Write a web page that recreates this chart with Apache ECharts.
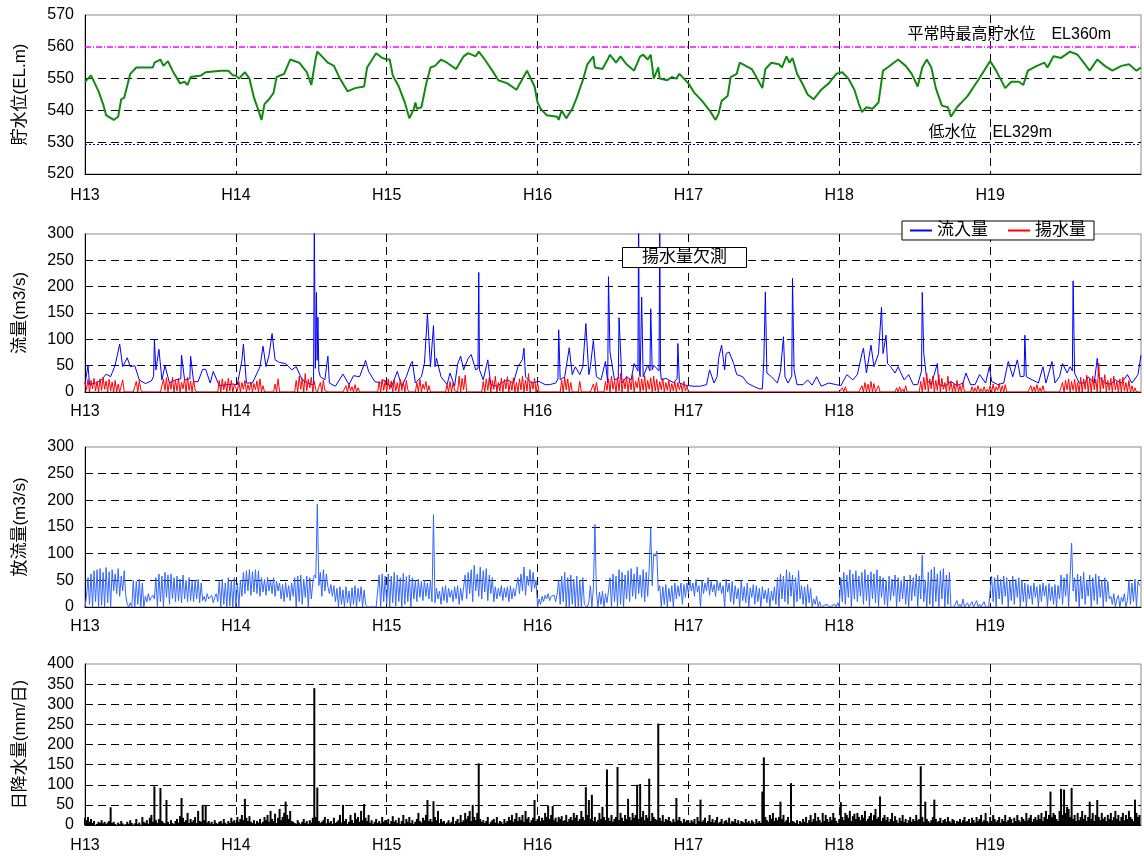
<!DOCTYPE html>
<html><head><meta charset="utf-8">
<script src="https://cdn.jsdelivr.net/npm/echarts@6/dist/echarts.min.js"></script>
<style>html,body{margin:0;padding:0;background:#fff}#c{width:1144px;height:857px}</style>
</head><body><div id="c"></div>
<script>
// ---------- DATA ----------
const yearTicks = ['H13','H14','H15','H16','H17','H18','H19'];
// Water level [year position, EL m]
const waterLevel = [[13.00,549],[13.04,551],[13.09,546],[13.12,542],[13.14,538.5],[13.19,537],[13.22,538],[13.24,543.5],[13.26,544],[13.30,551.5],[13.34,553.5],[13.45,553.5],[13.46,555],[13.50,556],[13.52,554],[13.55,555.5],[13.58,552.5],[13.63,548.5],[13.66,549],[13.68,548],[13.70,550.5],[13.77,551],[13.80,552],[13.90,552.5],[13.95,552.5],[13.98,551],[14.00,551],
[14.02,550],[14.06,552],[14.09,550],[14.12,544],[14.15,540],[14.17,537],[14.19,542],[14.22,543.5],[14.25,545.5],[14.27,550.5],[14.32,551.5],[14.36,556],[14.42,555],[14.47,552],[14.50,548],[14.51,547.5],[14.53,556.5],[14.54,558.5],[14.58,556.5],[14.61,555],[14.65,554],[14.69,550],[14.74,546],[14.79,547],[14.85,547.5],[14.87,553.5],[14.93,558],[14.97,556.5],[15.00,556],
[15.02,556],[15.04,551],[15.08,547.5],[15.12,542.5],[15.15,537.5],[15.18,540.5],[15.19,542.5],[15.20,540.5],[15.23,541],[15.26,548],[15.29,553.5],[15.32,554],[15.36,556],[15.40,555],[15.46,553],[15.51,557],[15.54,558],[15.59,557],[15.61,558.5],[15.65,556],[15.70,552.5],[15.74,549.5],[15.80,548.5],[15.86,546.5],[15.93,552.5],[15.98,547.5],[16.00,542.5],
[16.02,540.5],[16.06,538.5],[16.13,538],[16.14,537],[16.16,540],[16.19,537.5],[16.23,540.5],[16.26,544],[16.30,549.5],[16.33,554.5],[16.37,557],[16.38,553.5],[16.43,553],[16.47,556.5],[16.48,557.5],[16.52,555],[16.55,557],[16.59,554.5],[16.64,552.5],[16.68,557],[16.70,557.5],[16.73,556],[16.75,557.5],[16.77,550],[16.80,553.5],[16.81,550],[16.86,549.5],[16.89,550.5],[16.92,550],[16.94,551.5],[17.00,548.5],
[17.04,545.5],[17.09,543],[17.14,540],[17.18,537],[17.20,539],[17.22,543],[17.26,544.5],[17.28,550.5],[17.32,551.5],[17.34,555],[17.42,553],[17.45,550.5],[17.49,547],[17.51,553],[17.55,555],[17.60,554.5],[17.62,553.5],[17.65,557],[17.67,555],[17.69,556.5],[17.72,551.5],[17.76,548],[17.79,545],[17.83,543.5],[17.88,546.5],[17.93,548.5],[17.98,551.5],
[18.02,552],[18.06,550],[18.10,546.5],[18.13,542],[18.15,539.5],[18.18,541],[18.22,540.5],[18.26,542.5],[18.29,552.5],[18.32,553.5],[18.39,556],[18.44,554],[18.48,551.5],[18.52,547.5],[18.55,553.5],[18.58,556],[18.61,553.5],[18.64,547],[18.68,541.5],[18.72,541],[18.74,538],[18.78,541],[18.85,544.5],[18.92,549.5],[19.00,555.5],
[19.04,552.5],[19.10,547],[19.14,549],[19.19,549],[19.22,548],[19.25,552.5],[19.31,554],[19.36,555],[19.38,553.5],[19.42,557],[19.47,556.5],[19.53,558.5],[19.58,557.5],[19.62,555],[19.66,552.5],[19.71,556],[19.76,554],[19.81,552.5],[19.87,554],[19.92,554.5],[19.97,552.5],[20.00,553.5]];
const levelGridLines = [530, 540, 550];
const normalHighWL = 560;   // 平常時最高貯水位
const lowWL = 529.3;        // 低水位

// Inflow [year position, m3/s]
const inflow = [[13.00,15],[13.02,51],[13.03,14],[13.07,17],[13.11,23],[13.14,34],[13.17,29],[13.20,51],[13.23,91],[13.25,48],[13.28,65],[13.30,48],[13.33,50],[13.36,23],[13.40,16],[13.44,21],[13.455,30],[13.46,100],[13.47,42],[13.49,81],[13.51,23],[13.53,50],[13.56,17],[13.60,23],[13.635,25],[13.64,70],[13.66,23],[13.695,25],[13.70,68],[13.72,19],[13.75,20],[13.78,43],[13.80,43],[13.83,17],[13.85,39],[13.89,12],[13.94,14],[13.98,15],
[14.01,14],[14.04,60],[14.05,91],[14.07,17],[14.11,17],[14.16,48],[14.18,87],[14.20,48],[14.22,70],[14.24,111],[14.26,61],[14.29,56],[14.33,54],[14.37,42],[14.40,48],[14.44,23],[14.48,17],[14.50,14],[14.515,14],[14.52,320],[14.527,45],[14.534,189],[14.539,60],[14.544,142],[14.55,40],[14.56,29],[14.59,23],[14.61,68],[14.62,17],[14.66,11],[14.71,34],[14.75,14],[14.78,31],[14.82,29],[14.86,60],[14.88,39],[14.92,20],[14.96,17],[14.98,23],
[15.03,9],[15.07,39],[15.10,11],[15.13,29],[15.16,54],[15.17,58],[15.19,17],[15.23,29],[15.25,54],[15.27,148],[15.28,98],[15.29,48],[15.31,126],[15.32,48],[15.33,64],[15.36,29],[15.40,14],[15.42,36],[15.45,11],[15.47,53],[15.49,68],[15.51,42],[15.54,64],[15.56,71],[15.59,42],[15.605,45],[15.61,227],[15.615,42],[15.64,23],[15.67,61],[15.69,14],[15.73,11],[15.76,17],[15.80,23],[15.84,17],[15.87,48],[15.90,62],[15.91,83],[15.92,29],[15.96,17],
[16.01,20],[16.05,14],[16.08,14],[16.12,17],[16.135,25],[16.14,118],[16.15,23],[16.18,29],[16.21,84],[16.23,33],[16.25,48],[16.28,33],[16.30,48],[16.32,130],[16.34,33],[16.35,48],[16.37,98],[16.39,29],[16.42,23],[16.45,58],[16.465,17],[16.47,219],[16.48,76],[16.51,23],[16.535,25],[16.54,141],[16.56,17],[16.59,29],[16.62,23],[16.64,54],[16.665,40],[16.67,330],[16.675,40],[16.68,29],[16.69,180],[16.70,29],[16.73,51],[16.745,40],[16.75,158],[16.76,42],[16.77,51],[16.805,40],[16.81,310],[16.815,40],[16.82,23],[16.85,26],[16.90,18],[16.925,25],[16.93,92],[16.94,17],[16.98,13],
[17.03,11],[17.08,11],[17.12,14],[17.14,42],[17.17,17],[17.19,29],[17.20,64],[17.22,89],[17.24,42],[17.25,73],[17.27,76],[17.30,54],[17.32,33],[17.36,29],[17.39,17],[17.43,11],[17.47,6],[17.49,6],[17.50,61],[17.51,190],[17.52,36],[17.55,29],[17.59,17],[17.61,39],[17.63,105],[17.64,29],[17.66,17],[17.685,30],[17.69,216],[17.70,42],[17.72,14],[17.76,14],[17.79,23],[17.82,13],[17.85,29],[17.88,11],[17.93,17],[17.98,14],
[18.01,12],[18.05,33],[18.09,23],[18.12,33],[18.15,73],[18.16,83],[18.18,36],[18.21,89],[18.23,48],[18.26,73],[18.28,161],[18.29,73],[18.31,108],[18.32,54],[18.34,48],[18.37,36],[18.39,48],[18.43,23],[18.46,33],[18.49,14],[18.52,14],[18.545,40],[18.55,189],[18.56,73],[18.58,23],[18.61,14],[18.65,54],[18.66,14],[18.70,11],[18.74,20],[18.78,12],[18.82,17],[18.84,36],[18.87,14],[18.90,14],[18.93,33],[18.97,17],[18.995,48],
[19.01,20],[19.05,14],[19.09,17],[19.12,58],[19.15,29],[19.18,61],[19.20,29],[19.225,30],[19.23,108],[19.24,29],[19.28,23],[19.32,17],[19.35,48],[19.37,17],[19.41,58],[19.43,17],[19.46,29],[19.48,54],[19.51,36],[19.53,48],[19.545,40],[19.55,211],[19.56,36],[19.59,17],[19.63,17],[19.65,29],[19.69,17],[19.71,64],[19.72,29],[19.76,17],[19.80,15],[19.83,23],[19.87,17],[19.91,33],[19.94,17],[19.98,33],[20.00,70]];

// Pumping (揚水量), 100 values per year (step 0.01 year)
const pumpH13 = [18,4,24,0,22,6,26,2,20,0, 25,3,28,5,21,0,24,2,19,0, 22,0,15,0,2,23,0,0,0,0, 0,0,0,0,20,0,22,4,0,0, 0,0,0,0,0,0,0,0,0,0, 0,0,24,3,27,0,20,5,28,0, 22,2,26,0,18,6,25,0,28,3, 21,0,24,4,0,0,0,0,0,0, 0,0,0,0,0,0,0,0,0,22, 0,25,4,20,0,26,2,22,0,14];
const pumpH14 = [15,2,20,0,18,5,22,0,14,3, 19,0,16,4,21,0,25,0,12,0, 0,0,0,0,0,0,15,0,25,0, 0,0,0,0,0,0,0,0,0,0, 22,0,30,5,26,0,35,2,24,8, 28,0,20,4,0,0,18,0,22,3, 0,0,0,0,0,0,0,0,0,0, 0,0,0,12,0,15,2,10,0,14, 0,8,0,0,0,0,0,0,0,0, 0,0,0,0,0,20,0,24,3,22];
const pumpH15 = [0,25,5,21,0,23,2,18,0,24, 3,20,0,22,4,0,0,0,0,0, 18,0,24,0,15,5,20,0,12,0, 0,0,0,0,0,0,0,0,0,0, 14,0,20,0,18,3,0,0,30,0, 26,4,32,0,0,0,0,0,0,0, 0,0,0,0,20,0,25,3,28,0, 22,5,30,0,18,2,26,0,24,6, 29,0,21,3,27,0,18,0,25,4, 30,0,23,2,35,0,20,5,26,0];
const pumpH16 = [18,0,0,0,0,0,0,0,0,0, 0,0,0,0,0,0,22,0,28,4, 25,0,18,0,0,0,0,0,20,0, 0,0,0,0,0,0,0,15,0,18, 0,0,0,0,0,20,3,25,0,30, 5,22,0,28,2,35,0,24,6,30, 0,26,4,33,0,20,8,28,0,25, 3,31,0,22,5,27,0,30,2,24, 0,20,4,26,0,18,3,22,0,16, 2,20,0,18,4,15,0,20,2,12];
const pumpH17 = [0,0,0,0,0,0,0,0,0,0, 0,0,0,0,0,0,0,0,0,0, 0,0,0,0,0,0,0,0,0,0, 0,0,0,0,0,0,0,0,0,0, 0,0,0,0,0,0,0,0,0,0, 0,0,0,0,0,0,0,0,0,0, 0,0,0,0,0,0,0,0,0,0, 0,0,0,0,0,0,0,0,0,0, 0,0,0,0,0,0,0,0,0,0, 0,0,0,0,0,0,0,0,0,0];
const pumpH18 = [0,0,8,0,10,0,0,0,0,0, 0,0,0,0,0,12,0,18,0,15, 0,20,0,16,0,0,12,0,0,0, 0,0,0,0,0,0,0,0,8,0, 10,0,6,0,12,0,0,0,0,0, 0,0,0,0,20,0,28,4,35,0, 25,6,30,0,22,3,33,0,26,5, 18,0,30,2,20,0,15,0,22,0, 12,0,18,0,0,0,0,0,10,0, 8,0,12,0,6,0,10,0,5,0];
const pumpH19 = [12,0,15,0,10,3,16,0,12,0, 14,0,0,0,0,0,0,0,0,0, 0,0,0,0,0,0,0,12,0,10, 0,14,0,8,0,12,0,0,0,0, 0,0,0,0,0,0,0,0,18,0, 22,4,25,0,20,3,24,0,18,0, 28,0,25,5,32,0,26,0,30,4, 24,0,55,0,28,6,33,0,22,3, 26,0,30,4,20,0,25,0,28,2, 18,0,22,0,12,0,8,0,0,0];

// Discharge (放流量), 100 values per year (step 0.01 year)
const dischH13 = [0,20,55,5,62,0,68,10,70,0, 72,3,65,0,74,8,66,0,70,30, 62,25,72,20,58,30,68,22,5,0, 8,0,50,0,48,5,52,0,45,0, 20,10,25,12,18,22,15,55,0,62, 10,58,0,65,18,60,5,62,15,55, 10,58,12,52,8,60,15,50,10,55, 12,48,10,50,15,52,8,45,12,20, 10,25,15,12,22,8,18,25,10,48, 0,52,5,45,0,55,2,50,0,55];
const dischH14 = [0,45,0,50,20,65,25,68,30,70, 22,66,28,70,25,68,20,55,28,52, 22,56,30,50,25,55,20,48,30,45, 15,42,10,46,18,40,12,45,20,55, 0,58,10,60,5,52,18,58,0,55, 15,45,60,55,193,40,65,20,70,30, 62,38,25,42,20,40,10,35,0,38, 5,32,0,38,8,30,0,36,5,40, 0,35,10,38,0,32,5,0,0,0, 0,0,0,0,0,60,0,62,10,58];
const dischH15 = [5,62,0,58,8,65,2,60,10,55, 0,63,5,57,10,60,0,55,15,50, 10,52,18,48,12,50,20,45,15,50, 10,173,8,35,15,30,5,38,12,40, 8,35,18,32,10,38,15,40,5,35, 12,38,60,15,65,25,70,10,78,30, 62,20,75,15,68,28,72,12,60,25, 55,10,38,15,35,20,40,12,36,18, 38,10,40,15,35,20,38,55,25,62, 30,75,22,58,40,70,28,65,35,50];
const dischH16 = [0,15,5,20,10,22,15,25,12,20, 18,22,10,25,50,5,58,10,65,0, 55,0,60,5,52,0,58,0,50,0, 55,5,8,0,10,40,0,35,155,30, 0,28,5,30,0,25,8,30,55,0, 62,10,58,0,70,5,65,0,60,15, 68,10,72,20,62,15,75,25,60,18, 70,10,65,20,72,148,40,100,95,105, 30,40,0,38,5,42,0,35,10,40, 0,45,15,40,20,45,5,42,18,45];
const dischH17 = [25,48,30,45,20,52,28,40,0,50, 25,45,30,55,22,48,28,42,20,50, 30,46,25,40,0,52,28,45,10,48, 5,40,15,35,0,50,12,38,8,45, 0,36,18,42,5,40,10,35,0,38, 15,32,8,35,0,30,12,38,5,55, 0,62,15,58,10,70,5,65,20,60, 0,55,10,68,15,40,5,38,0,42, 8,35,0,15,5,20,0,10,0,0, 3,0,5,0,0,2,0,5,0,8];
const dischH18 = [0,55,10,65,5,60,18,70,0,62, 15,68,10,58,20,65,5,70,12,60, 0,66,15,62,8,70,0,58,18,55, 5,50,0,58,12,52,20,60,0,55, 10,50,15,58,5,48,0,60,12,55, 20,62,0,58,15,97,10,50,0,65, 5,70,0,75,10,62,0,68,15,72, 0,60,5,65,0,3,0,0,12,0, 5,0,15,0,0,8,0,0,10,0, 0,12,0,5,0,0,10,0,3,0];
const dischH19 = [0,58,10,55,0,60,15,52,5,58, 20,55,0,50,12,58,5,52,18,55, 0,50,10,45,0,42,15,40,5,45, 18,38,0,42,10,45,20,40,0,44, 12,38,5,42,0,40,15,60,5,55, 20,62,0,58,120,30,55,10,62,0, 58,15,65,5,50,20,60,0,55,12, 62,5,58,18,50,0,55,10,48,15, 20,5,25,0,15,22,0,18,10,25, 0,12,50,5,45,10,52,0,48,40];

// Daily rainfall (日降水量), 100 values per year (step 0.01 year)
const rainH13 = [18,12,20,8,15,5,10,0,3,8, 5,12,4,8,2,6,10,44,5,8, 3,0,6,2,10,4,0,2,8,3, 12,5,0,4,15,2,6,0,20,8, 5,12,3,18,25,8,96,12,5,15, 92,10,6,4,62,8,3,12,5,2, 10,15,6,22,67,18,8,12,30,5, 15,8,12,20,5,35,10,8,50,12, 50,6,10,4,8,2,12,5,3,8, 10,4,15,6,2,10,5,18,8,12];
const rainH14 = [5,20,8,15,25,12,65,18,10,22, 8,5,12,3,10,6,15,4,8,20, 12,25,8,35,15,10,28,5,18,40, 12,20,30,58,25,15,35,10,8,5, 3,12,6,2,8,15,5,10,3,12, 6,18,340,20,93,10,5,8,12,20, 4,15,6,10,3,18,5,8,12,25, 6,50,10,15,3,8,25,12,5,30, 15,20,8,35,12,52,18,10,25,6, 12,3,8,15,5,10,4,20,8,12];
const rainH15 = [6,15,3,10,22,8,12,5,18,3, 10,25,4,15,8,20,5,12,3,8, 15,30,10,6,18,12,25,62,10,15, 8,59,20,12,35,5,15,8,10,3, 6,12,4,8,20,3,10,15,5,25, 8,12,30,15,22,35,10,50,20,12, 30,153,15,8,12,5,10,20,3,8, 12,15,6,20,4,10,8,3,15,6, 10,20,12,25,8,15,30,10,20,12, 25,8,35,15,20,6,12,18,62,10];
const rainH16 = [15,22,10,18,12,30,20,48,15,25, 47,12,18,8,20,15,22,10,12,25, 8,15,20,12,30,18,25,10,15,35, 20,12,94,25,62,15,75,10,20,8, 12,30,15,45,20,12,138,18,10,25, 8,15,20,144,12,30,18,10,25,15, 65,20,12,30,18,25,100,15,102,20, 35,12,25,18,115,10,30,20,15,12, 252,18,10,25,8,15,12,20,10,6, 15,8,67,12,20,10,5,15,8,12];
const rainH17 = [10,5,12,8,15,3,20,10,63,8, 12,18,5,10,25,8,15,6,12,20, 5,8,15,3,10,12,6,18,4,10, 8,15,5,12,3,10,8,5,15,6, 10,4,12,8,3,15,6,10,5,83, 168,20,12,8,25,15,30,10,18,12, 20,58,15,25,8,12,20,6,104,10, 8,5,12,3,10,6,15,8,20,5, 12,25,8,15,30,10,20,12,6,30, 10,25,15,8,20,12,30,18,10,5];
const rainH18 = [15,57,20,12,30,25,18,35,10,22, 28,15,30,20,12,25,18,35,10,15, 22,30,12,25,40,15,20,71,10,18, 25,12,20,8,15,30,10,22,12,5, 18,10,25,8,15,5,12,20,8,15, 10,25,12,15,146,20,8,58,15,10, 6,12,20,63,15,8,10,18,5,12, 15,8,20,10,6,15,12,4,10,8, 15,6,12,20,8,10,15,5,18,12, 6,20,10,15,25,8,12,30,10,6];
const rainH19 = [20,10,25,15,8,12,20,6,15,10, 25,8,12,20,15,5,18,10,25,12, 8,20,15,10,30,12,18,25,8,15, 20,12,25,15,30,10,20,35,15,25, 83,20,30,25,15,10,35,90,25,88, 30,45,40,20,92,15,25,10,30,12, 20,35,15,25,10,20,58,15,30,10, 25,62,20,12,30,15,20,10,25,15, 30,12,20,35,15,25,10,20,30,12, 25,15,35,20,15,10,63,30,20,25];

// ---------- BUILD ----------
const firstYear = 13;
function yearly(arrs) {
  const out = [];
  arrs.forEach((vals, k) => vals.forEach((v, i) => out.push([+(firstYear + k + i / 100).toFixed(2), v])));
  return out;
}
const pumpData = yearly([pumpH13, pumpH14, pumpH15, pumpH16, pumpH17, pumpH18, pumpH19]);
const dischData = yearly([dischH13, dischH14, dischH15, dischH16, dischH17, dischH18, dischH19]);
const rainData = yearly([rainH13, rainH14, rainH15, rainH16, rainH17, rainH18, rainH19]);

const FONT = "'Liberation Sans','Noto Sans CJK JP',sans-serif";
const dash = {color: '#000', type: [8, 5], width: 1};
const grids = [
  {top: 15, height: 159}, {top: 234, height: 158}, {top: 447, height: 160}, {top: 664, height: 161}
].map(g => Object.assign({left: 85, right: 2, show: true, borderColor: '#8a8a8a', borderWidth: 1, backgroundColor: '#fff'}, g));
const labelMargins = [14, 12, 12, 13];

const xAxes = [0, 1, 2, 3].map(i => ({
  type: 'value', gridIndex: i, min: firstYear, max: firstYear + yearTicks.length, interval: 1,
  axisLine: {show: true, onZero: false, lineStyle: {color: '#000', width: 1}},
  axisTick: {show: false},
  axisLabel: {color: '#000', fontSize: 16, fontFamily: FONT, margin: labelMargins[i],
    formatter: v => yearTicks[v - firstYear] || ''},
  splitLine: {show: true, showMinLine: false, showMaxLine: false, lineStyle: dash}
}));

function yAx(i, min, max, interval, name, split) {
  return {
    type: 'value', gridIndex: i, min, max, interval, name, nameLocation: 'middle', nameGap: 56,
    nameTextStyle: {fontSize: 17, color: '#000', fontFamily: FONT},
    axisLine: {show: true, lineStyle: {color: '#000', width: 1}},
    axisTick: {show: false},
    axisLabel: {color: '#000', fontSize: 16, fontFamily: FONT, margin: 11},
    splitLine: {show: split, showMinLine: false, showMaxLine: false, lineStyle: dash}
  };
}
const yAxes = [
  yAx(0, 520, 570, 10, '貯水位(EL.m)', false),
  yAx(1, 0, 300, 50, '流量(m3/s)', true),
  yAx(2, 0, 300, 50, '放流量(m3/s)', true),
  yAx(3, 0, 400, 50, '日降水量(mm/日)', true)
];

const levelMarks = levelGridLines.map(v => ({yAxis: v, lineStyle: dash, label: {show: false}}));
levelMarks.push({yAxis: normalHighWL, lineStyle: {color: '#ff00ff', type: [6, 2, 1, 2], width: 1.5, opacity: 1},
  label: {show: true, position: 'insideEndTop', formatter: '平常時最高貯水位　EL360m', distance: [30, 4],
    color: '#000', fontSize: 16, fontFamily: FONT}});
levelMarks.push({yAxis: lowWL, lineStyle: {color: '#0000ff', type: [2, 2], width: 1},
  label: {show: true, position: 'insideEndTop', formatter: '低水位　EL329m', distance: [89, 4],
    color: '#000', fontSize: 16, fontFamily: FONT}});

const option = {
  animation: false,
  backgroundColor: '#fff',
  textStyle: {fontFamily: FONT},
  grid: grids, xAxis: xAxes, yAxis: yAxes,
  title: {text: '揚水量欠測', left: 622, top: 247, backgroundColor: '#fff', borderColor: '#000', borderWidth: 1,
    padding: [2, 20], textStyle: {fontSize: 17, fontWeight: 'normal', color: '#000', fontFamily: FONT}, z: 20},
  legend: {data: ['流入量', '揚水量'], left: 902, top: 221, backgroundColor: '#fff', borderColor: '#000', borderWidth: 1,
    padding: [1, 8], itemGap: 20, itemWidth: 22, itemHeight: 2, icon: 'rect',
    textStyle: {fontSize: 17, color: '#000', fontFamily: FONT}, z: 20},
  series: [
    {name: '貯水位', type: 'line', xAxisIndex: 0, yAxisIndex: 0, data: waterLevel, symbol: 'none',
      lineStyle: {color: '#128a12', width: 2}, itemStyle: {color: '#128a12'}, z: 5,
      markLine: {symbol: 'none', silent: true, animation: false, data: levelMarks}},
    {name: '流入量', type: 'line', xAxisIndex: 1, yAxisIndex: 1, data: inflow, symbol: 'none',
      lineStyle: {color: '#0000ff', width: 1}, itemStyle: {color: '#0000ff'}},
    {name: '揚水量', type: 'line', xAxisIndex: 1, yAxisIndex: 1, data: pumpData, symbol: 'none',
      lineStyle: {color: '#ff0000', width: 1}, itemStyle: {color: '#ff0000'}},
    {name: '放流量', type: 'line', xAxisIndex: 2, yAxisIndex: 2, data: dischData, symbol: 'none',
      lineStyle: {color: '#3366ff', width: 1}, itemStyle: {color: '#3366ff'}},
    {name: '日降水量', type: 'bar', xAxisIndex: 3, yAxisIndex: 3, data: rainData, barWidth: 2,
      itemStyle: {color: '#000'}}
  ]
};
const chart = echarts.init(document.getElementById('c'), null, {renderer: 'canvas'});
chart.setOption(option);
</script>
</body></html>
